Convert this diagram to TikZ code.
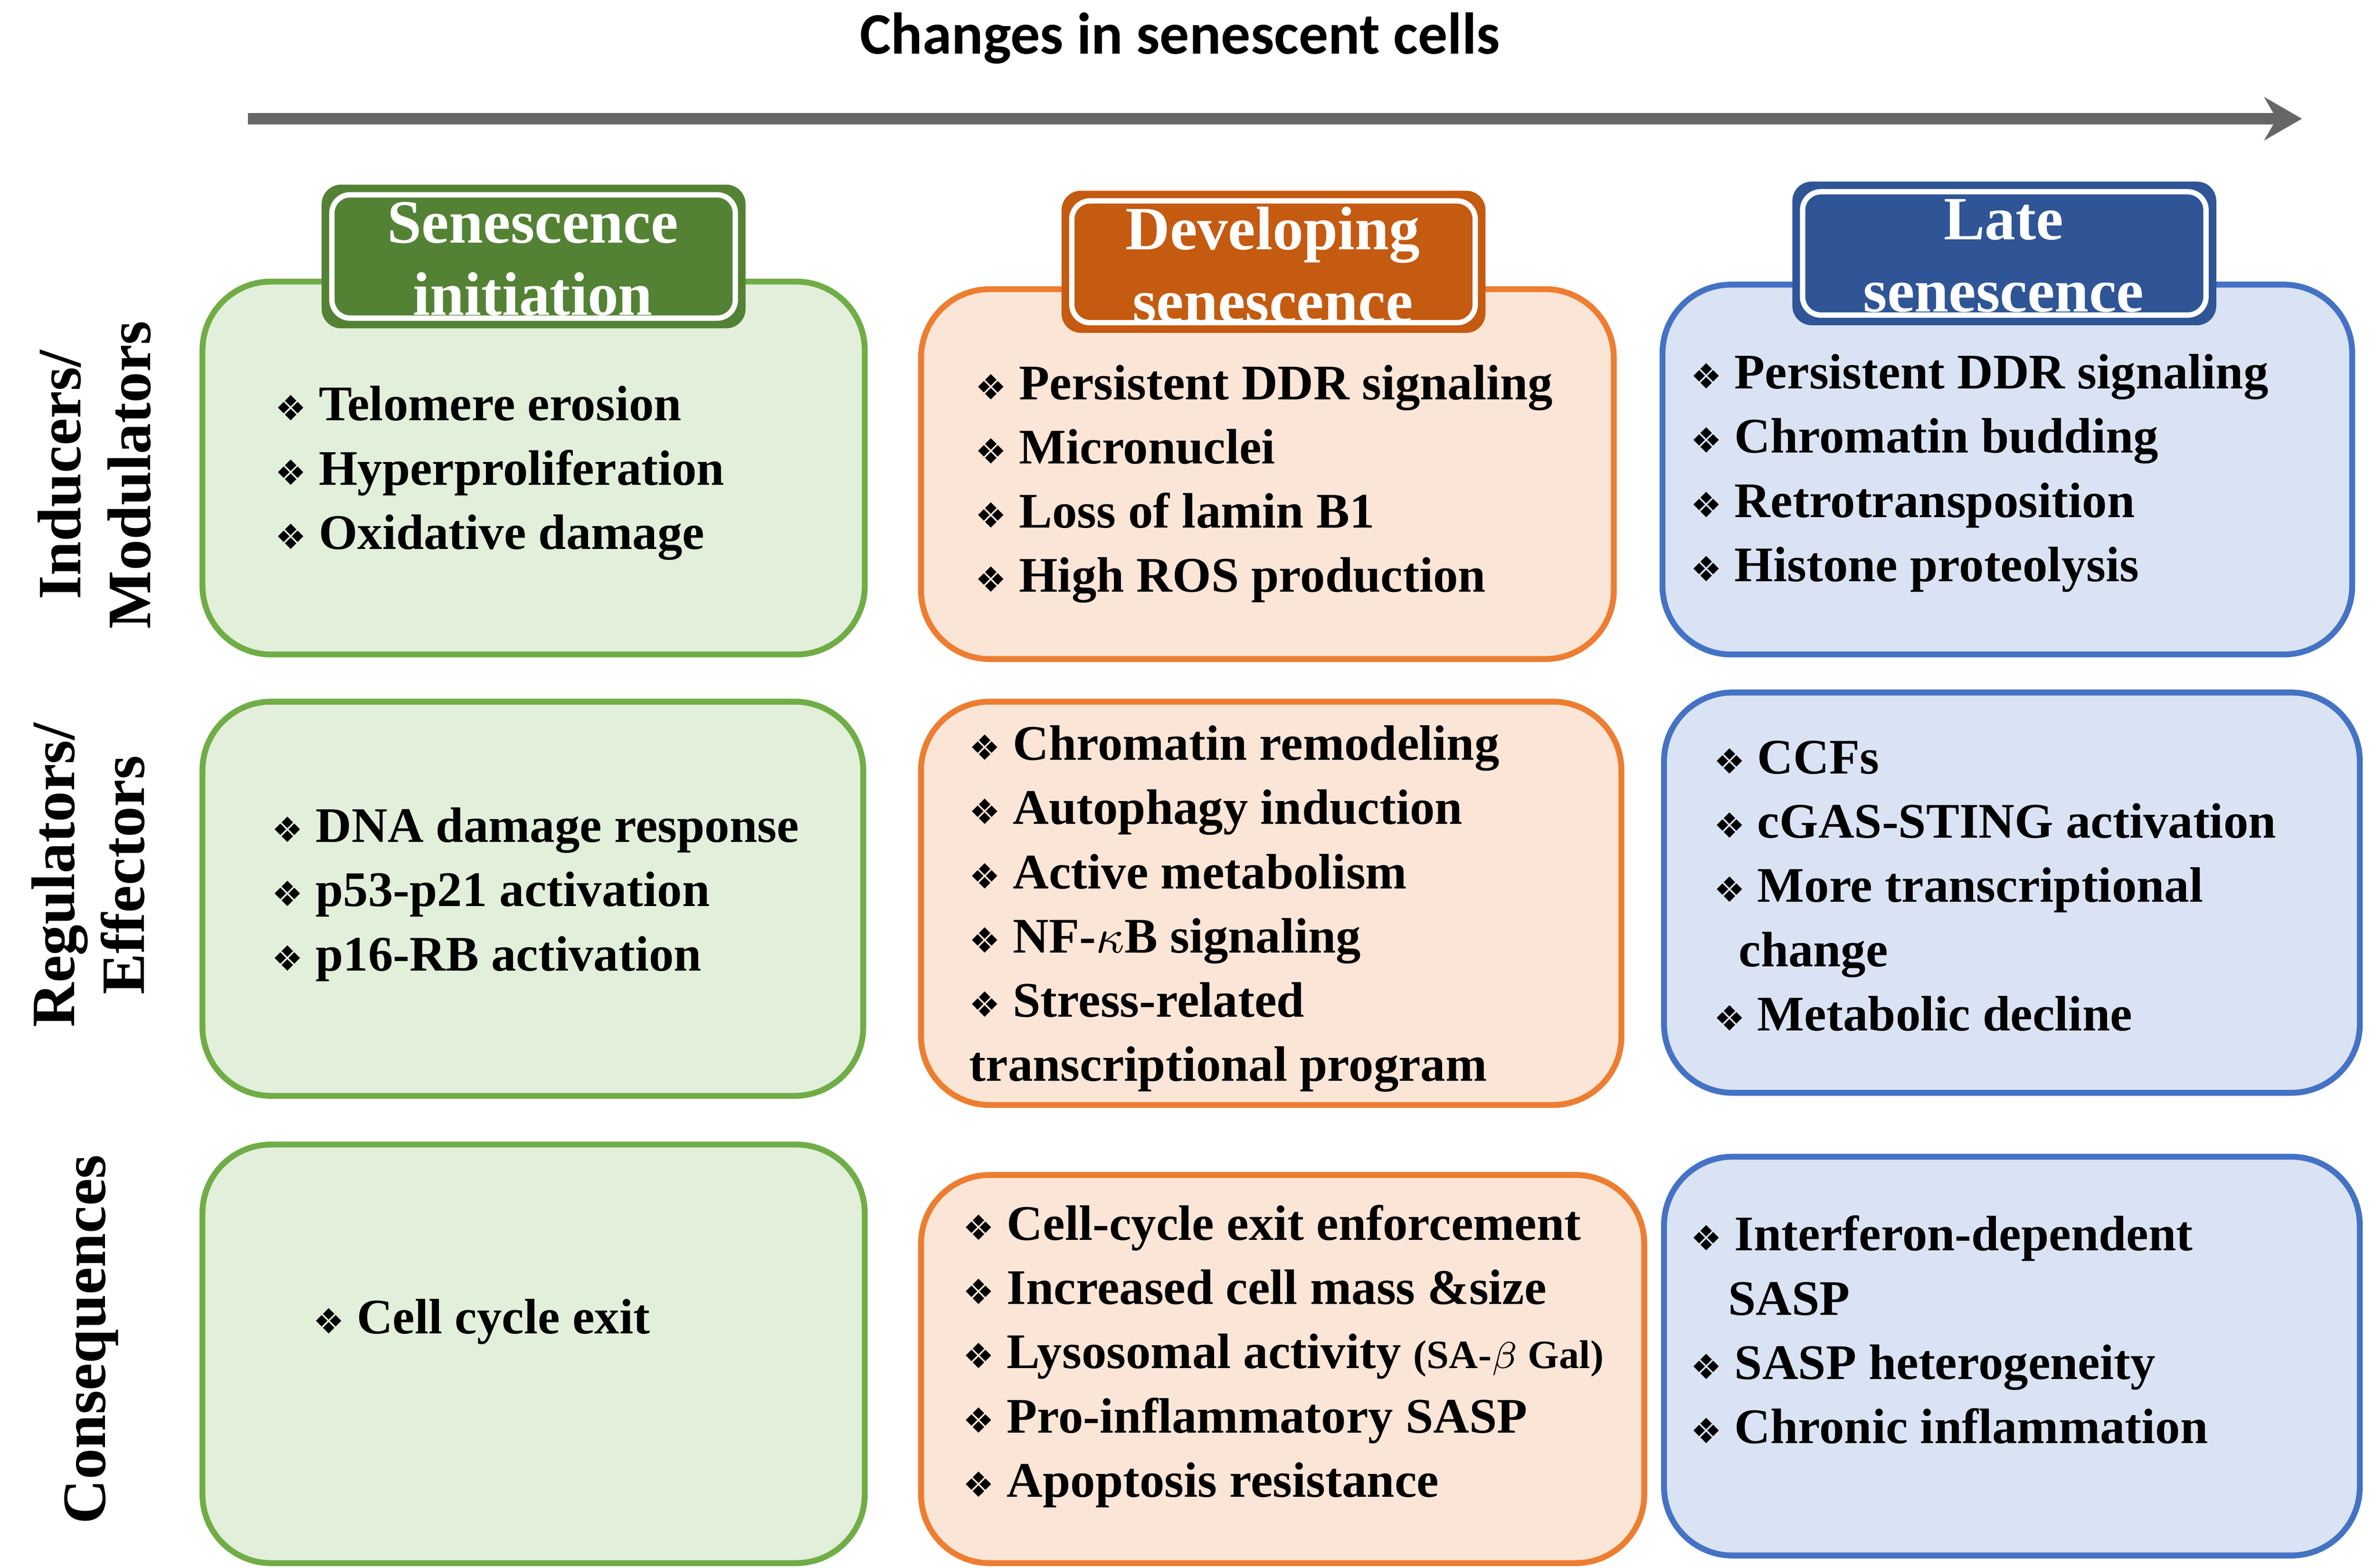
\documentclass[tikz,border=0pt]{standalone}
\usepackage{fontspec}
\usetikzlibrary{arrows.meta}
\setmainfont{Liberation Serif}
\newfontfamily\carl{Carlito}
\newfontfamily\djv{DejaVu Sans}
\newcommand{\bul}{{\djv\fontsize{6.5}{6.5}\selectfont\char"2756}\ }
\definecolor{gF}{HTML}{E2EFDA}\definecolor{gB}{HTML}{70AD47}\definecolor{gH}{HTML}{548235}
\definecolor{oF}{HTML}{FBE5D6}\definecolor{oB}{HTML}{ED7D31}\definecolor{oH}{HTML}{C55A11}
\definecolor{bF}{HTML}{DAE3F3}\definecolor{bB}{HTML}{4472C4}\definecolor{bH}{HTML}{2F5597}
\begin{document}
\begin{tikzpicture}[x=0.01cm,y=-0.01cm,
 box/.style={rounded corners=0.45cm,line width=1.1pt},
 tab/.style={rounded corners=0.12cm},
 txt/.style={anchor=north west,align=left,inner sep=0pt,font=\bfseries\fontsize{9.3}{12}\selectfont},
 htxt/.style={text=white,align=center,font=\bfseries\fontsize{11.5}{13.5}\selectfont},
 side/.style={rotate=90,align=center,font=\bfseries\fontsize{11.5}{13}\selectfont}]
\useasboundingbox (0,0) rectangle (1560,1030);
\node[font=\carl\bfseries\fontsize{11}{13}\selectfont] (title) at (775,25) {Changes in senescent cells};
\coordinate (a1) at (163,78); \coordinate (a2) at (1512,78);
\draw[line width=2.2pt,color=black!60,-{Stealth[length=7pt,width=8pt]}] (a1) -- (a2);
\node[side] (s1) at (62,312) {Inducers/\\Modulators};
\node[side] (s2) at (58,575) {Regulators/\\Effectors};
\node[side] (s3) at (60,880) {Consequences};
% boxes
\draw[box,draw=gB,fill=gF] (133,185) rectangle (568,430);
\draw[box,draw=gB,fill=gF] (133,461) rectangle (567,720);
\draw[box,draw=gB,fill=gF] (133,752) rectangle (568,1027);
\draw[box,draw=oB,fill=oF] (605,190) rectangle (1060,433);
\draw[box,draw=oB,fill=oF] (605,461) rectangle (1065,726);
\draw[box,draw=oB,fill=oF] (605,772) rectangle (1080,1027);
\draw[box,draw=bB,fill=bF] (1092,187) rectangle (1545,430);
\draw[box,draw=bB,fill=bF] (1093,455) rectangle (1550,718);
\draw[box,draw=bB,fill=bF] (1093,760) rectangle (1550,1022);
% tabs
\draw[tab,fill=gH,draw=gH] (212,122) rectangle (489,215);
\draw[tab,draw=white,line width=1pt] (218,128) rectangle (483,209);
\node[htxt] (h1) at (350,170) {Senescence\\initiation};
\draw[tab,fill=oH,draw=oH] (698,126) rectangle (975,218);
\draw[tab,draw=white,line width=1pt] (704,132) rectangle (969,212);
\node[htxt] (h2) at (836,174) {Developing\\senescence};
\draw[tab,fill=bH,draw=bH] (1178,120) rectangle (1455,213);
\draw[tab,draw=white,line width=1pt] (1184,126) rectangle (1449,207);
\node[htxt] (h3) at (1316,168) {Late\\senescence};
% texts
\node[txt] (t11) at (180,253) {\bul Telomere erosion\\\bul Hyperproliferation\\\bul Oxidative damage};
\node[txt] (t12) at (178,530) {\bul DNA damage response\\\bul p53-p21 activation\\\bul p16-RB activation};
\node[txt] (t13) at (205,853) {\bul Cell cycle exit};
\node[txt] (t21) at (640,239) {\bul Persistent DDR signaling\\\bul Micronuclei\\\bul Loss of lamin B1\\\bul High ROS production};
\node[txt] (t22) at (636,476) {\bul Chromatin remodeling\\\bul Autophagy induction\\\bul Active metabolism\\\bul NF-$\kappa$B signaling\\\bul Stress-related\\transcriptional program};
\node[txt] (t23) at (632,791) {\bul Cell-cycle exit enforcement\\\bul Increased cell mass \&size\\\bul Lysosomal activity {\fontsize{7.5}{12}\selectfont (SA-$\beta$ Gal)}\\\bul Pro-inflammatory SASP\\\bul Apoptosis resistance};
\node[txt] (t31) at (1110,232) {\bul Persistent DDR signaling\\\bul Chromatin budding\\\bul Retrotransposition\\\bul Histone proteolysis};
\node[txt] (t32) at (1125,486) {\bul CCFs\\\bul cGAS-STING activation\\\bul More transcriptional\\\ \ change\\\bul Metabolic decline};
\node[txt] (t33) at (1110,798) {\bul Interferon-dependent\\\ \ \ SASP\\\bul SASP heterogeneity\\\bul Chronic inflammation};
\end{tikzpicture}
\end{document}
